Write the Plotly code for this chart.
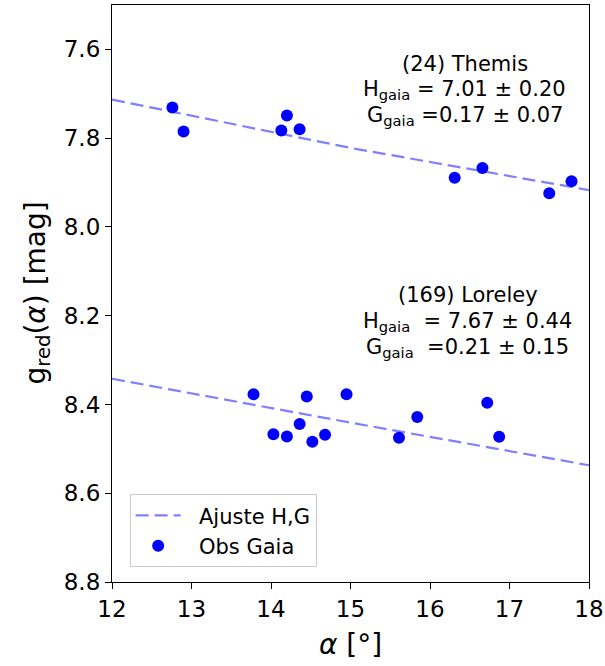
import plotly.graph_objects as go

# Observations (phase angle in degrees, reduced magnitude)
themis_alpha = [12.76, 12.90, 14.20, 14.13, 14.36, 16.31, 16.66, 17.50, 17.78]
themis_mag = [7.731, 7.785, 7.749, 7.783, 7.780, 7.889, 7.867, 7.924, 7.897]

loreley_alpha = [13.78, 14.03, 14.20, 14.36, 14.45, 14.52, 14.68, 14.95, 15.61, 15.84, 16.72, 16.87]
loreley_mag = [8.377, 8.467, 8.472, 8.444, 8.382, 8.484, 8.468, 8.377, 8.475, 8.428, 8.396, 8.473]

# H,G fit curves
fit_alpha = [12, 15, 18]
themis_fit = [7.713, 7.822, 7.917]
loreley_fit = [8.342, 8.441, 8.537]

x_ticks = [12, 13, 14, 15, 16, 17, 18]
y_ticks = [7.6, 7.8, 8.0, 8.2, 8.4, 8.6, 8.8]

FONT = "DejaVu Sans"
line_style = dict(color="rgba(0,0,255,0.5)", width=2.2, dash="13px,6px")
marker_style = dict(color="#0000ff", size=12, line=dict(width=0))

NB = "\u00a0\u00a0"

fig = go.Figure()
fig.add_trace(go.Scatter(x=fit_alpha, y=themis_fit, mode="lines", line=line_style,
                         name=NB + "Ajuste H,G", legendgroup="fit", showlegend=True))
fig.add_trace(go.Scatter(x=fit_alpha, y=loreley_fit, mode="lines", line=line_style,
                         name=NB + "Ajuste H,G", legendgroup="fit", showlegend=False))
fig.add_trace(go.Scatter(x=themis_alpha, y=themis_mag, mode="markers", marker=marker_style,
                         name=NB + "Obs Gaia", legendgroup="obs", showlegend=True))
fig.add_trace(go.Scatter(x=loreley_alpha, y=loreley_mag, mode="markers", marker=marker_style,
                         name=NB + "Obs Gaia", legendgroup="obs", showlegend=False))

ann_font = dict(family=FONT, size=21, color="black")
texts = [
    (465, 7.632, "(24) Themis"),
    (465, 7.691, "H<sub>gaia</sub> = 7.01 ± 0.20"),
    (465, 7.751, "G<sub>gaia</sub> =0.17 ± 0.07"),
    (468, 8.153, "(169) Loreley"),
    (468, 8.214, "H<sub>gaia</sub>&nbsp; = 7.67 ± 0.44"),
    (468, 8.273, "G<sub>gaia</sub>&nbsp; =0.21 ± 0.15"),
]
for px, yv, t in texts:
    xv = 12 + (px - 112.7) / 79.4
    fig.add_annotation(x=xv, y=yv, xref="x", yref="y", text=t, showarrow=False,
                       font=ann_font, xanchor="center", yanchor="middle")

# Axis titles
title_font = dict(family=FONT, size=28, color="black")
fig.add_annotation(x=0.5, y=0, xref="paper", yref="paper", yshift=-62,
                   text="<i>α</i> [°]", showarrow=False, font=title_font,
                   xanchor="center", yanchor="middle")
fig.add_annotation(x=0, y=0.5, xref="paper", yref="paper", xshift=-75,
                   text="g<sub>red</sub>(<i>α</i>) [mag]", showarrow=False, font=title_font,
                   textangle=-90, xanchor="center", yanchor="middle")

axis_common = dict(showline=True, linecolor="black", linewidth=1.2, mirror=True,
                   ticks="outside", ticklen=6, tickwidth=1.2, tickcolor="black",
                   showgrid=False, zeroline=False, automargin=False,
                   tickfont=dict(family=FONT, size=23, color="black"))

fig.update_layout(
    width=605, height=666,
    margin=dict(l=112, r=16, t=5, b=84),
    paper_bgcolor="white", plot_bgcolor="white",
    font=dict(family=FONT, color="black"),
    xaxis=dict(range=[12, 18], tickvals=x_ticks, ticktext=[str(v) for v in x_ticks],
               **axis_common),
    yaxis=dict(range=[8.8, 7.5], tickvals=y_ticks, ticktext=[f"{v:.1f}" for v in y_ticks],
               **axis_common),
    legend=dict(x=0.037, y=0.152, xanchor="left", yanchor="top",
                bgcolor="rgba(255,255,255,0.8)", bordercolor="#cccccc", borderwidth=1,
                font=dict(family=FONT, size=21, color="black"),
                tracegroupgap=0, itemwidth=45),
    showlegend=True,
)

fig.write_html("out.html", config={"displayModeBar": False},
               post_script="document.body.style.margin='0px';document.body.style.overflow='hidden';")
